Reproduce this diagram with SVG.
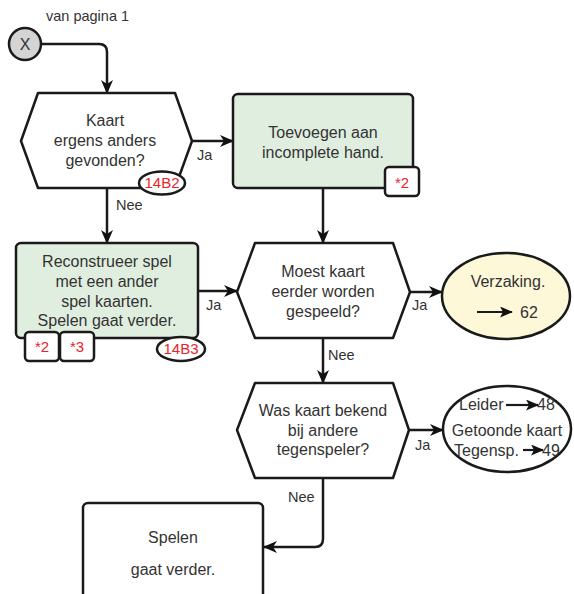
<svg xmlns="http://www.w3.org/2000/svg" width="574" height="594" viewBox="0 0 574 594">
<defs>
<marker id="ah" markerWidth="14" markerHeight="12" refX="13" refY="6" orient="auto" markerUnits="userSpaceOnUse">
<path d="M0,0 L14,6 L0,12 L4,6 Z" fill="#111"/>
</marker>
<marker id="sh" markerWidth="13" markerHeight="11" refX="12" refY="5.5" orient="auto" markerUnits="userSpaceOnUse">
<path d="M0,0 L13,5.5 L0,11 L3,5.5 Z" fill="#111"/>
</marker>
<style>
.shape{stroke:#1a1a1a;stroke-width:2.5;stroke-linejoin:round}
.green{fill:#e0eedf}
.white{fill:#fff}
.t{font-family:"Liberation Sans",Arial,sans-serif;font-size:16px;fill:#333;text-anchor:middle}
.lbl{font-family:"Liberation Sans",Arial,sans-serif;font-size:14.5px;fill:#333}
.red{font-family:"Liberation Sans",Arial,sans-serif;font-size:15px;fill:#e8232a;text-anchor:middle}
.conn{fill:none;stroke:#1a1a1a;stroke-width:2.5}
.small{fill:none;stroke:#1a1a1a;stroke-width:2.2}
</style>
</defs>
<rect width="574" height="594" fill="#fff"/>

<g id="connectors">
<path class="conn" d="M41,44 H99 Q107,44 107,52 V93" marker-end="url(#ah)"/>
<path class="conn" d="M192,141 H233" marker-end="url(#ah)"/>
<path class="conn" d="M107,188 V243" marker-end="url(#ah)"/>
<path class="conn" d="M323,189 V243" marker-end="url(#ah)"/>
<path class="conn" d="M198,291 H237" marker-end="url(#ah)"/>
<path class="conn" d="M410,292 H442" marker-end="url(#ah)"/>
<path class="conn" d="M323,338 V383" marker-end="url(#ah)"/>
<path class="conn" d="M409,430 H443" marker-end="url(#ah)"/>
<path class="conn" d="M323,478 V539 Q323,547 315,547 H264" marker-end="url(#ah)"/>
<text class="lbl" x="197" y="160">Ja</text>
<text class="lbl" x="116" y="210">Nee</text>
<text class="lbl" x="206" y="310">Ja</text>
<text class="lbl" x="412" y="310">Ja</text>
<text class="lbl" x="328" y="360">Nee</text>
<text class="lbl" x="415" y="450">Ja</text>
<text class="lbl" x="288" y="502">Nee</text>
</g>

<g id="start">
<circle cx="25" cy="44" r="16" fill="#d4d4d4" class="shape"/>
<text class="t" x="25" y="50">X</text>
<text class="lbl" x="46" y="21">van pagina 1</text>
</g>

<g id="q1">
<polygon class="shape white" points="21,141 38,93 175,93 192,141 175,188 38,188"/>
<text class="t" x="105" y="126">Kaart</text>
<text class="t" x="105" y="146">ergens anders</text>
<text class="t" x="105" y="166">gevonden?</text>
<ellipse class="shape white" cx="162" cy="183" rx="23" ry="11.5"/>
<text class="red" x="162" y="188">14B2</text>
</g>

<g id="add">
<rect class="shape green" x="233" y="94" width="180" height="94" rx="5"/>
<text class="t" x="323" y="138">Toevoegen aan</text>
<text class="t" x="323" y="158">incomplete hand.</text>
<rect class="shape white" x="385" y="167" width="34" height="29" rx="4"/>
<text class="red" x="402" y="188">*2</text>
</g>

<g id="reconstruct">
<rect class="shape green" x="16" y="243" width="182" height="95" rx="5"/>
<text class="t" x="107" y="267">Reconstrueer spel</text>
<text class="t" x="107" y="287">met een ander</text>
<text class="t" x="107" y="307">spel kaarten.</text>
<text class="t" x="107" y="326">Spelen gaat verder.</text>
<rect class="shape white" x="25" y="332" width="34" height="29" rx="4"/>
<text class="red" x="42" y="352">*2</text>
<rect class="shape white" x="60" y="332" width="34" height="29" rx="4"/>
<text class="red" x="77" y="352">*3</text>
<ellipse class="shape white" cx="181" cy="349" rx="24" ry="12"/>
<text class="red" x="181" y="354">14B3</text>
</g>

<g id="q2">
<polygon class="shape white" points="237,292 255,243 393,243 410,292 393,338 255,338"/>
<text class="t" x="323" y="277">Moest kaart</text>
<text class="t" x="323" y="297">eerder worden</text>
<text class="t" x="323" y="317">gespeeld?</text>
</g>

<g id="verzaking">
<ellipse class="shape" fill="#fcf8d8" cx="506" cy="296" rx="64" ry="43"/>
<text class="t" x="508" y="287">Verzaking.</text>
<path class="small" d="M477,312 H512" marker-end="url(#sh)"/>
<text class="lbl" style="font-size:16px" x="520" y="318">62</text>
</g>

<g id="q3">
<polygon class="shape white" points="237,430 255,383 393,383 409,430 393,478 255,478"/>
<text class="t" x="323" y="416">Was kaart bekend</text>
<text class="t" x="323" y="436">bij andere</text>
<text class="t" x="323" y="455">tegenspeler?</text>
</g>

<g id="shown">
<ellipse class="shape white" cx="507" cy="429" rx="64" ry="43"/>
<text class="lbl" style="font-size:16px" x="459" y="410">Leider</text>
<path class="small" d="M506,405 H538" marker-end="url(#sh)"/>
<text class="lbl" style="font-size:16px" x="537" y="410">48</text>
<text class="t" x="507" y="436">Getoonde kaart</text>
<text class="lbl" style="font-size:16px" x="454" y="456">Tegensp.</text>
<path class="small" d="M523,450 H543" marker-end="url(#sh)"/>
<text class="lbl" style="font-size:16px" x="542" y="456">49</text>
</g>

<g id="continue">
<rect class="shape white" x="83" y="503" width="180" height="110" rx="5"/>
<text class="t" x="173" y="543">Spelen</text>
<text class="t" x="173" y="575">gaat verder.</text>
</g>
</svg>
